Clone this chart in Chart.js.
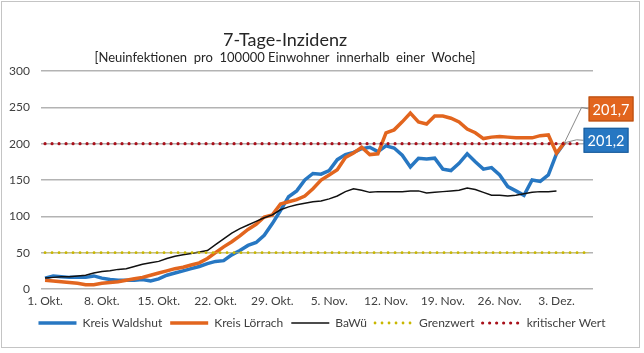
<!DOCTYPE html>
<html><head><meta charset="utf-8">
<script src="https://cdn.jsdelivr.net/npm/chart.js@4"></script>
<style>html,body{margin:0;padding:0;background:#fff}#wrap{width:644px;height:353px;position:relative}</style>
</head><body><div id="wrap"><canvas id="c" width="644" height="353"></canvas></div>
<script>
const categories = [
 "1. Okt.","2. Okt.","3. Okt.","4. Okt.","5. Okt.","6. Okt.","7. Okt.","8. Okt.","9. Okt.","10. Okt.",
 "11. Okt.","12. Okt.","13. Okt.","14. Okt.","15. Okt.","16. Okt.","17. Okt.","18. Okt.","19. Okt.","20. Okt.",
 "21. Okt.","22. Okt.","23. Okt.","24. Okt.","25. Okt.","26. Okt.","27. Okt.","28. Okt.","29. Okt.","30. Okt.","31. Okt.",
 "1. Nov.","2. Nov.","3. Nov.","4. Nov.","5. Nov.","6. Nov.","7. Nov.","8. Nov.","9. Nov.","10. Nov.",
 "11. Nov.","12. Nov.","13. Nov.","14. Nov.","15. Nov.","16. Nov.","17. Nov.","18. Nov.","19. Nov.","20. Nov.",
 "21. Nov.","22. Nov.","23. Nov.","24. Nov.","25. Nov.","26. Nov.","27. Nov.","28. Nov.","29. Nov.","30. Nov.",
 "1. Dez.","2. Dez.","3. Dez.","4. Dez.","5. Dez.","6. Dez.","7. Dez."
];
const waldshut = [15,18,17,16,16,16,18,15,13,12, 12,12,13,11,14,19,22,25,28,31,
 35,38,39,47,53,60,64,74,90,108, 127,135,150,159,158,163,178,185,188,193,
 195,189,197,194,184,168,180,179,180,165, 163,173,186,175,165,167,157,141,135,129,
 150,148,157,186,201.2];
const loerrach = [12,11,10,9,8,6,6,8,9,10, 12,14,16,19,22,25,28,30,33,36,
 42,50,58,65,73,82,89,99,102,117, 120,123,128,138,150,157,164,181,187,195,
 185,186,215,219,230,242,230,227,238,238, 235,230,220,215,207,209,210,209,208,208,
 208,211,212,187,201.7];
const bawue = [15,16,17,17,18,19,22,24,25,27, 28,31,34,36,38,42,45,47,49,51,
 53,61,69,77,83,88,93,98,102,109, 113,116,118,120,121,124,128,134,138,136,
 133,134,134,134,134,135,135,132,133,134, 135,136,139,137,133,129,129,128,129,131,
 133,134,134,135];
const grenzwert = 50;
const kritischerWert = 200;
const grenzwertDays = 68;
const kritischDays = 67;
const yTicks = [0,50,100,150,200,250,300];
const seriesNames = ["Kreis Waldshut","Kreis Lörrach","BaWü","Grenzwert","kritischer Wert"];
const titleText = "7-Tage-Inzidenz";
const subtitleText = "[Neuinfektionen  pro  100000 Einwohner  innerhalb  einer  Woche]";

const BLUE = "#2777c2", ORANGE = "#e2651e", RED = "#a8101a", YEL = "#c9b700";
const FONT = "Lato, 'Open Sans', sans-serif";

const grenzData = categories.slice(0, grenzwertDays).map(() => grenzwert);
const kritData = categories.slice(0, kritischDays).map(() => kritischerWert);

const fmt = v => v.toFixed(1).replace('.', ',');

const framePlugin = {
  id: 'frame',
  beforeDraw(chart) {
    const ctx = chart.ctx;
    ctx.save();
    ctx.fillStyle = '#fff';
    ctx.fillRect(0, 0, chart.width, chart.height);
    ctx.strokeStyle = '#c4c4c4';
    ctx.lineWidth = 1;
    ctx.strokeRect(1.5, 1.5, chart.width - 6, chart.height - 7);
    ctx.fillStyle = '#262626';
    ctx.textAlign = 'center';
    ctx.textBaseline = 'middle';
    ctx.font = "18px " + FONT;
    ctx.fillText(titleText, 285, 40);
    ctx.font = "13px " + FONT;
    ctx.fillText(subtitleText, 285, 58);
    ctx.restore();
  }
};

const calloutPlugin = {
  id: 'callouts',
  afterDatasetsDraw(chart) {
    const ctx = chart.ctx;
    const specs = [
      {ds: 1, fill: ORANGE, stroke: '#b34d10', dx: 24, dy: -46, kx: 17, ky: -35},
      {ds: 0, fill: BLUE, stroke: '#1b5b99', dx: 19, dy: -15, kx: 12, ky: -3}
    ];
    ctx.save();
    ctx.font = "14.5px " + FONT;
    specs.forEach(s => {
      const meta = chart.getDatasetMeta(s.ds);
      const data = chart.data.datasets[s.ds].data;
      const idx = data.length - 1;
      const pt = meta.data[idx];
      const label = fmt(data[idx]);
      const tw = ctx.measureText(label).width;
      const w = tw + 8, h = 25;
      const bx = pt.x + s.dx, by = pt.y + s.dy;
      ctx.strokeStyle = '#8a8a8a';
      ctx.lineWidth = 1;
      ctx.beginPath();
      ctx.moveTo(pt.x, pt.y);
      ctx.lineTo(pt.x + s.kx, pt.y + s.ky);
      ctx.lineTo(bx, by + h / 2);
      ctx.stroke();
      ctx.fillStyle = s.fill;
      ctx.fillRect(bx, by, w, h);
      ctx.strokeStyle = s.stroke;
      ctx.strokeRect(bx + 0.5, by + 0.5, w - 1, h - 1);
      ctx.fillStyle = '#fff';
      ctx.textAlign = 'center';
      ctx.textBaseline = 'middle';
      ctx.fillText(label, bx + w / 2, by + h / 2 + 1);
    });
    ctx.restore();
  }
};

new Chart(document.getElementById('c'), {
  type: 'line',
  data: {
    labels: categories,
    datasets: [
      {label: seriesNames[0], data: waldshut, borderColor: BLUE, backgroundColor: BLUE, borderWidth: 3.5, order: 5},
      {label: seriesNames[1], data: loerrach, borderColor: ORANGE, backgroundColor: ORANGE, borderWidth: 3.5, order: 4},
      {label: seriesNames[2], data: bawue, borderColor: '#111', backgroundColor: '#111', borderWidth: 1.5, order: 3},
      {label: seriesNames[3], data: grenzData, borderColor: YEL, backgroundColor: YEL, borderWidth: 2.8, borderDash: [0, 7], borderCapStyle: 'round', order: 2},
      {label: seriesNames[4], data: kritData, borderColor: RED, backgroundColor: RED, borderWidth: 3.2, borderDash: [0, 7], borderCapStyle: 'round', order: 1},
      {label: seriesNames[3] + ' (Linie)', data: grenzData, borderColor: 'rgba(225,210,60,0.55)', borderWidth: 1, order: 2.5}
    ]
  },
  options: {
    responsive: false,
    animation: false,
    devicePixelRatio: 1,
    elements: {point: {radius: 0, hoverRadius: 0}, line: {tension: 0}},
    layout: {padding: {left: 0, right: 0, top: 71, bottom: 14}},
    scales: {
      x: {
        offset: true,
        grid: {display: false, drawTicks: false},
        border: {display: false},
        ticks: {
          autoSkip: false, maxRotation: 0, padding: 5,
          color: '#404040', font: {family: FONT, size: 12},
          callback: function(v, i) { return i % 7 === 0 ? categories[i] : null; }
        },
        afterFit: s => { s.height = 20; }
      },
      y: {
        min: 0, max: 300,
        afterBuildTicks: s => { s.ticks = yTicks.map(v => ({value: v})); },
        grid: {color: '#b3b3b3', lineWidth: 1.5, drawTicks: false},
        border: {display: false},
        ticks: {padding: 11, color: '#404040', font: {family: FONT, size: 12}},
        afterFit: s => { s.width = 41; }
      },
      yRight: {
        position: 'right', min: 0, max: 300,
        grid: {display: false, drawTicks: false},
        border: {display: false},
        ticks: {display: false},
        afterFit: s => { s.width = 51; }
      }
    },
    plugins: {
      legend: {
        position: 'bottom',
        labels: {
          usePointStyle: true, pointStyle: 'line', pointStyleWidth: 38,
          padding: 8, color: '#404040', font: {family: FONT, size: 12},
          generateLabels: chart => chart.data.datasets.slice(0, seriesNames.length).map((ds, i) => ({
            text: ds.label, fillStyle: ds.borderColor, strokeStyle: ds.borderColor,
            lineWidth: ds.borderWidth, lineDash: ds.borderDash || [], lineCap: ds.borderCapStyle || 'butt',
            pointStyle: 'line', datasetIndex: i, hidden: false, fontColor: '#404040'
          }))
        }
      },
      title: {display: false},
      tooltip: {enabled: false}
    }
  },
  plugins: [framePlugin, calloutPlugin]
});
</script></body></html>
